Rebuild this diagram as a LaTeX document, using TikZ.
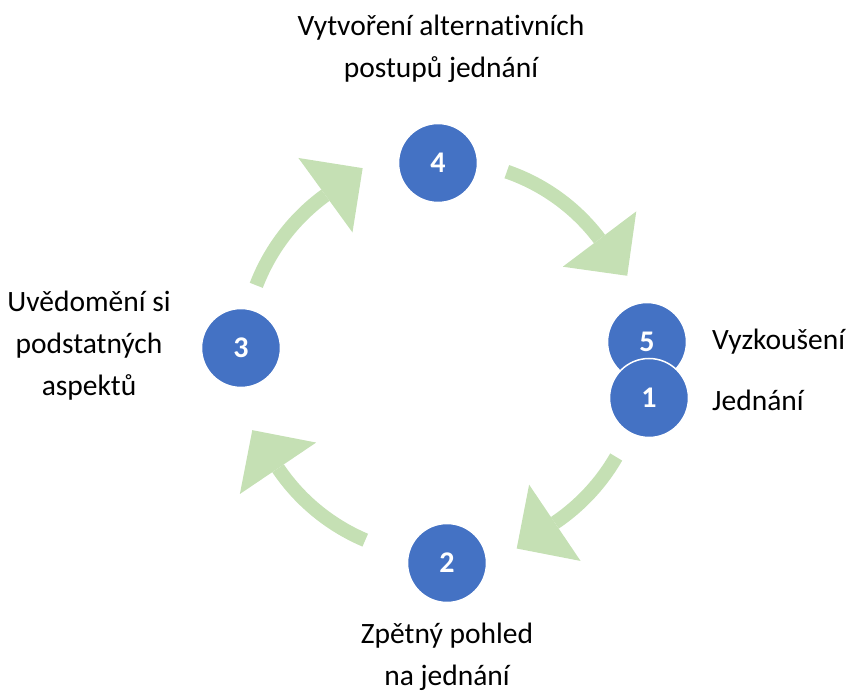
\documentclass[tikz,border=0pt]{standalone}
\usepackage{fontspec}
\setmainfont{Carlito}[Ligatures=NoCommon]
\usetikzlibrary{calc}
\definecolor{cblue}{HTML}{4472C4}
\definecolor{cgreen}{HTML}{C5E0B4}
\newcommand\greenarrow[4]{%
  \coordinate (#4tail) at ($(C)+(#1:#3)$);
  \coordinate (#4base) at ($(C)+(#2:#3)$);
  \draw[shaft] (#4tail) arc[start angle=#1, end angle=#2, radius=#3];
  \fill[cgreen] ($(#4base)+(#2:46)$) -- ($(#4base)+({#2-90}:46)$) -- ($(#4base)+({#2+180}:46)$) -- cycle;
}
\begin{document}
\begin{tikzpicture}[x=1pt,y=1pt,
  num/.style={circle, fill=cblue, draw=white, line width=1.5pt, minimum size=79pt, inner sep=0pt,
    text=white, font=\fontsize{30}{36}\selectfont\bfseries},
  lbl/.style={font=\fontsize{29.5}{42}\selectfont, align=center, inner sep=0pt},
  shaft/.style={draw=cgreen, line width=14pt}]
\useasboundingbox (0,0) rectangle (849,693);
\coordinate (C) at (443,336);
% arrows
\greenarrow{159}{126}{200}{a}
\greenarrow{71}{37}{196}{b}
\greenarrow{-30}{-56}{200}{c}
\greenarrow{-113}{-146}{199}{d}
% circles
\node[num] (n4) at (438,530) {4};
\node[num] (n5) at (647,351) {5};
\node[num] (n1) at (649,295) {1};
\node[num] (n2) at (447,130) {2};
\node[num] (n3) at (241,345) {3};
% labels
\node[lbl] (t4) at (441,644) {Vytvoření alternativních\\postupů jednání};
\node[lbl] (t3) at (89,347) {Uvědomění si\\podstatných\\aspektů};
\node[lbl] (t2) at (447,36) {Zpětný pohled\\na jednání};
\node[lbl, anchor=west] (t5) at (712,351) {Vyzkoušení};
\node[lbl, anchor=west] (t1) at (712,293) {Jednání};
\end{tikzpicture}
\end{document}
